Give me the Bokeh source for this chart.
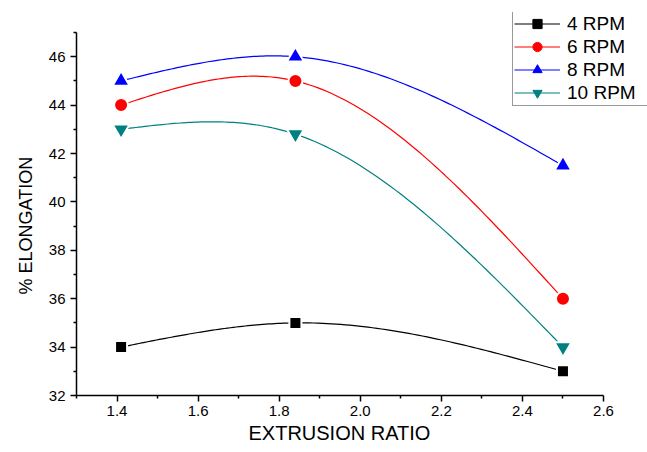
import numpy as np
from bokeh.plotting import figure
from bokeh.models import Range1d, FixedTicker, Legend, LegendItem, NumeralTickFormatter, Title
from bokeh.embed import file_html
from bokeh.resources import INLINE

# ---- data ----
extrusion_ratio = [1.41, 1.84, 2.5]
rpm4 = [34.0, 35.0, 33.0]
rpm6 = [44.0, 45.0, 36.0]
rpm8 = [45.0, 46.0, 41.5]
rpm10 = [43.0, 42.8, 34.0]
series_labels = ["4 RPM", "6 RPM", "8 RPM", "10 RPM"]
x_ticks = [1.4, 1.6, 1.8, 2.0, 2.2, 2.4, 2.6]
x_minor = [1.3, 1.5, 1.7, 1.9, 2.1, 2.3, 2.5]
y_ticks = [32, 34, 36, 38, 40, 42, 44, 46]
y_minor = [33, 35, 37, 39, 41, 43, 45, 47]
x_axis_span = (1.3, 2.6)
y_axis_span = (32, 47)
x_title = "EXTRUSION RATIO"
y_title = "% ELONGATION"


def natural_spline(xs, ys, per_seg=60):
    """Smooth connector (like Origin's spline line) through the data points."""
    xs = np.asarray(xs, float)
    ys = np.asarray(ys, float)
    n = len(xs)
    h = np.diff(xs)
    A = np.zeros((n, n))
    b = np.zeros(n)
    A[0, 0] = 1.0
    A[-1, -1] = 1.0
    for i in range(1, n - 1):
        A[i, i - 1] = h[i - 1]
        A[i, i] = 2 * (h[i - 1] + h[i])
        A[i, i + 1] = h[i]
        b[i] = 6 * ((ys[i + 1] - ys[i]) / h[i] - (ys[i] - ys[i - 1]) / h[i - 1])
    M = np.linalg.solve(A, b)
    out_x, out_y = [], []
    for i in range(n - 1):
        t = np.linspace(0, 1, per_seg)
        hh = h[i]
        yy = (ys[i] * (1 - t) + ys[i + 1] * t
              + hh * hh / 6 * (M[i] * ((1 - t) ** 3 - (1 - t)) + M[i + 1] * (t ** 3 - t)))
        out_x.extend(xs[i] + t * hh)
        out_y.extend(yy)
    return out_x, out_y


FONT = "Liberation Sans"

# frame: left 76, right 647 (canvas edge), top 12, bottom 395 px
# axis x 1.3 -> 2.6 spans 76..603 px; axis y 32 -> 47 spans 395..32 px
x_end = x_axis_span[1] + (647 - 603) * (x_axis_span[1] - x_axis_span[0]) / (603 - 76)
y_end = y_axis_span[1] + (32 - 12) * (y_axis_span[1] - y_axis_span[0]) / (395 - 32)

p = figure(width=647, height=452, output_backend="svg", toolbar_location=None,
           x_range=Range1d(x_axis_span[0], x_end), y_range=Range1d(y_axis_span[0], y_end),
           min_border_left=76, min_border_right=0, min_border_top=12, min_border_bottom=57)
p.outline_line_color = None
p.grid.visible = False
p.background_fill_color = "white"
p.border_fill_color = "white"

p.xaxis.ticker = FixedTicker(ticks=x_ticks, minor_ticks=x_minor)
p.yaxis.ticker = FixedTicker(ticks=y_ticks, minor_ticks=y_minor)
p.xaxis.formatter = NumeralTickFormatter(format="0.0")
p.xaxis.bounds = x_axis_span
p.yaxis.bounds = y_axis_span
for ax in (p.xaxis, p.yaxis):
    ax.axis_line_width = 1.5
    ax.axis_line_color = "black"
    ax.major_tick_line_width = 1.5
    ax.minor_tick_line_width = 1.5
    ax.major_tick_line_color = "black"
    ax.minor_tick_line_color = "black"
    ax.major_tick_in = 0
    ax.major_tick_out = 6
    ax.minor_tick_in = 0
    ax.minor_tick_out = 3
    ax.major_label_text_font = FONT
    ax.major_label_text_font_size = "15px"
    ax.major_label_text_color = "black"
p.xaxis.major_label_standoff = 4
p.yaxis.major_label_standoff = 5

# axis titles centred on the axis span (not on the wider frame)
xt = Title(text=x_title, align="left", offset=172, vertical_align="top", standoff=6,
           text_font=FONT, text_font_size="20px", text_font_style="normal", text_color="black")
p.add_layout(xt, "below")
yt = Title(text=y_title, align="left", offset=101, vertical_align="bottom", standoff=20,
           text_font=FONT, text_font_size="18px", text_font_style="normal", text_color="black")
p.add_layout(yt, "left")

series = [rpm4, rpm6, rpm8, rpm10]
colors = ["black", "red", "blue", "#008080"]
markers = ["square", "circle", "triangle", "inverted_triangle"]
sizes = [12, 14, 17, 17]

items = []
for ys, col, mk, sz, lab in zip(series, colors, markers, sizes, series_labels):
    sx, sy = natural_spline(extrusion_ratio, ys)
    ln = p.line(sx, sy, line_color=col, line_width=1.2)
    p.scatter(extrusion_ratio, ys, marker=mk, size=sz, fill_color=col,
              line_color="white", line_width=2)
    # legend-only marker (no white halo), draws nothing in the plot
    lg = p.scatter([np.nan], [np.nan], marker=mk, size=sz, fill_color=col, line_color=col)
    items.append(LegendItem(label=lab, renderers=[ln, lg]))

legend = Legend(items=items, location=(436, 289),
                label_text_font=FONT, label_text_font_size="19px",
                label_text_color="black",
                glyph_width=46, glyph_height=23, label_height=22, label_width=85,
                spacing=0, padding=1, margin=0, label_standoff=7,
                border_line_color="#333333", border_line_width=1,
                background_fill_color="white", background_fill_alpha=1.0)
p.add_layout(legend, "center")

open("out.html", "w").write(file_html(p, INLINE))
